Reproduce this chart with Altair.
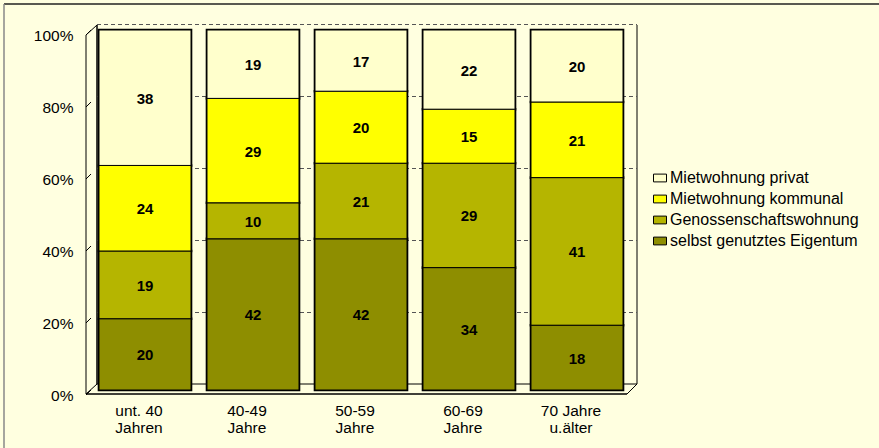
import altair as alt
import pandas as pd

# Age groups (two-line labels) and housing tenure types
age_groups = ["unt. 40\nJahren", "40-49\nJahre", "50-59\nJahre", "60-69\nJahre", "70 Jahre\nu.älter"]
tenure_types = ["Mietwohnung privat", "Mietwohnung kommunal",
                "Genossenschaftswohnung", "selbst genutztes Eigentum"]
tenure_colors = ["#FFFFCC", "#FFFF00", "#B5B500", "#8E8E00"]

# Shares per age group (percent)
eigentum = [20, 42, 42, 34, 18]
genossenschaft = [19, 10, 21, 29, 41]
kommunal = [24, 29, 20, 15, 21]
privat = [38, 19, 17, 22, 20]

grid_levels = [0, 0.2, 0.4, 0.6, 0.8, 1.0]

FONT = "Liberation Sans"

# Long table, stacked from the bottom (Eigentum) to the top (privat)
series = {
    "selbst genutztes Eigentum": eigentum,
    "Genossenschaftswohnung": genossenschaft,
    "Mietwohnung kommunal": kommunal,
    "Mietwohnung privat": privat,
}
rows = []
for rank, (tenure, vals) in enumerate(series.items()):
    for age, v in zip(age_groups, vals):
        rows.append({"age": age, "tenure": tenure, "value": v, "rank": rank})
df = pd.DataFrame(rows)


def y_axis():
    return alt.Axis(values=grid_levels, format="%", domain=False, ticks=False,
                    grid=False, labelFont=FONT, labelFontSize=15.5,
                    labelColor="#000", labelPadding=18, labelOffset=5, title=None)


x_enc = alt.X(
    "age:N", sort=age_groups,
    scale=alt.Scale(paddingInner=0.148, paddingOuter=0.074),
    axis=alt.Axis(title=None, domain=False, ticks=False, labelAngle=0,
                  labelFont=FONT, labelFontSize=15.5, labelColor="#000",
                  labelPadding=13, labelOffset=-6, labelLineHeight=17,
                  labelExpr="split(datum.label, '\\n')"),
)
y_scale = alt.Scale(domain=[0, 1])

stacked = alt.Chart(df).transform_stack(
    stack="value", groupby=["age"], as_=["y0", "y1"], offset="normalize",
    sort=[alt.SortField("rank", order="ascending")],
).transform_calculate(ymid="(datum.y0 + datum.y1) / 2")

color_enc = alt.Color(
    "tenure:N",
    scale=alt.Scale(domain=tenure_types, range=tenure_colors),
    legend=alt.Legend(orient="none", legendX=561, legendY=140, title=None,
                      labelFont=FONT, labelFontSize=16, labelColor="#000",
                      labelLimit=0,
                      symbolType="M-1,-0.6H1V0.6H-1Z", symbolSize=169,
                      symbolStrokeColor="black", symbolStrokeWidth=1,
                      rowPadding=5, labelOffset=2, padding=0),
)

# Heavier outline beneath, then the segments with thin separators
bar_outline = stacked.mark_bar(stroke="black", strokeWidth=2.6).encode(
    x=x_enc, y=alt.Y("y0:Q", scale=y_scale, axis=y_axis()), y2="y1:Q",
    color=color_enc,
)
bars = stacked.mark_bar(stroke="black", strokeWidth=1).encode(
    x=x_enc, y=alt.Y("y0:Q", scale=y_scale, axis=y_axis()), y2="y1:Q",
    color=color_enc,
)
labels = stacked.mark_text(font=FONT, fontSize=15, fontWeight="bold",
                           color="black", dy=1).encode(
    x=x_enc, y=alt.Y("ymid:Q", scale=y_scale, axis=y_axis()),
    text="value:Q",
)

levels = pd.DataFrame({"level": grid_levels})

# Dashed gridlines on the back wall
grid = alt.Chart(levels).transform_filter("datum.level > 0").mark_rule(
    color="#555", strokeDash=[4, 3], strokeWidth=1.2, yOffset=-5.5
).encode(y=alt.Y("level:Q", scale=y_scale, axis=y_axis()),
         x=alt.value(6), x2=alt.value(546))

# Small slanted ticks on the side wall
side_ticks = alt.Chart(levels).mark_rule(
    color="black", strokeWidth=1, yOffset=5, y2Offset=0
).encode(y=alt.Y("level:Q", scale=y_scale, axis=y_axis()), y2="level:Q",
         x=alt.value(-5), x2=alt.value(0))


def edge(x1, y1, x2, y2, color="black", width=1.0):
    return alt.Chart(pd.DataFrame({"k": [0]})).mark_rule(
        color=color, strokeWidth=width
    ).encode(x=alt.value(x1), y=alt.value(y1), x2=alt.value(x2), y2=alt.value(y2))


frame = [
    edge(-87, -26, 900, -26, "#222", 1.5),      # outer border top
    edge(-87, -26, -87, 500, "#888", 1.5),      # outer border left
    edge(6, -5, 6, 354, "black", 1.5),          # back wall left
    edge(546, -5, 546, 354, "black", 1),        # back wall right
    edge(6, 354, 546, 354, "black", 1),         # floor back edge
    edge(-5, 364, 536, 364, "black", 1.5),      # floor front edge
    edge(-5, 364, 6, 354, "black", 1),          # floor left diagonal
    edge(536, 364, 546, 354, "black", 1),       # floor right diagonal
    edge(-5, 5, -5, 364, "black", 1),           # side wall front edge
    edge(-5, 5, 6, -5, "black", 1),             # side wall top diagonal
]

chart = alt.layer(
    *frame, grid, side_ticks, bar_outline, bars, labels
).properties(
    width=540, height=360,
    autosize=alt.AutoSizeParams(type="none"),
    padding={"left": 91, "top": 30, "right": 248, "bottom": 58},
    background="#FFFFE0",
).configure_view(strokeWidth=0)

chart.save("out.html", embed_options={"renderer": "svg", "actions": False})
